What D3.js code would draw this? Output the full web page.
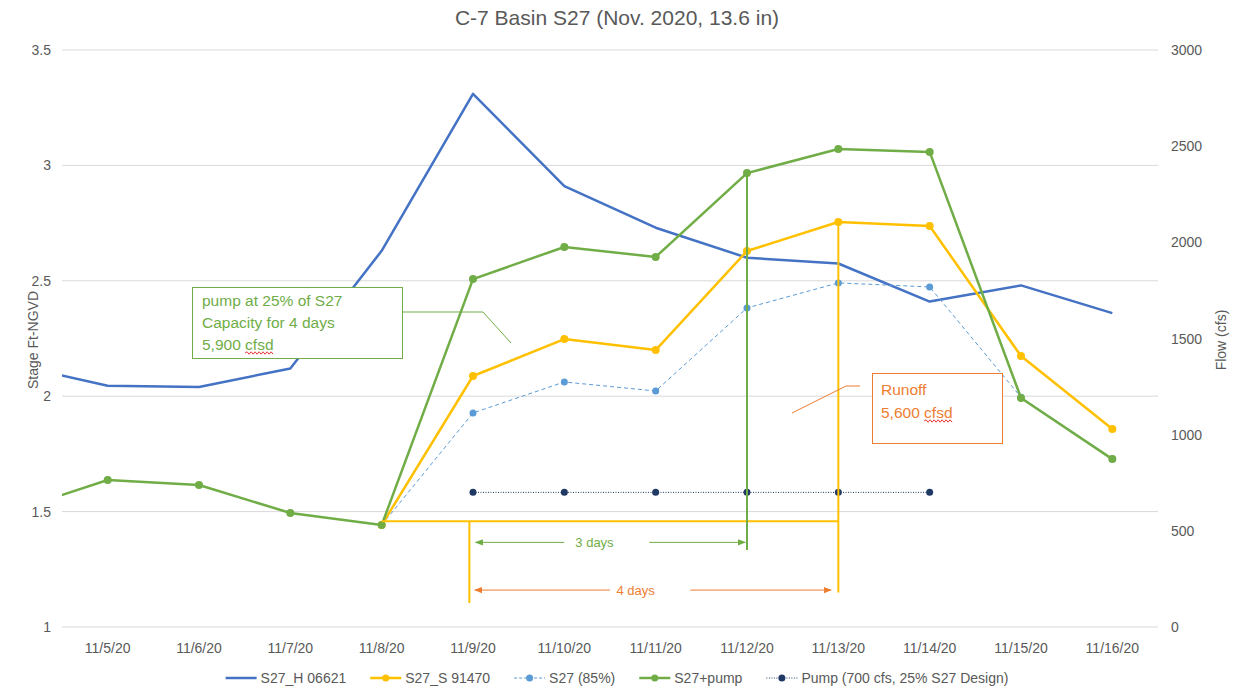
<!DOCTYPE html>
<html><head><meta charset="utf-8">
<script src="https://cdn.jsdelivr.net/npm/d3@7"></script>
<style>
body{margin:0;background:#fff;}
text{font-family:"Liberation Sans",Arial,sans-serif;}
</style></head>
<body><svg id="c" width="1234" height="689"></svg>
<script>
// ---- data ----
const categories = ["11/5/20","11/6/20","11/7/20","11/8/20","11/9/20","11/10/20","11/11/20","11/12/20","11/13/20","11/14/20","11/15/20","11/16/20"];
// index -1 = 11/4/20 (partially visible, clipped at plot edge)
const stageIdx   = [-1,0,1,2,3,4,5,6,7,8,9,10,11];
const stageH     = [2.135,2.045,2.04,2.12,2.63,3.31,2.91,2.73,2.60,2.575,2.41,2.48,2.36];
const flowSIdx   = [3,4,5,6,7,8,9,10,11];
const flowS      = [530,1305,1497,1440,1955,2106,2085,1409,1029];
const flow85Idx  = [3,4,5,6,7,8,9,10,11];
const flow85     = [530,1113,1274,1227,1659,1789,1768,1195,875];
const pumpFlowIdx= [-1,0,1,2,3,4,5,6,7,8,9,10,11];
const pumpFlow   = [608,764,738,593,530,1809,1976,1924,2360,2485,2470,1191,873];
const pumpIdx    = [4,5,6,7,8,9];
const pump       = [700,700,700,700,700,700];
const leftTicks  = [1,1.5,2,2.5,3,3.5];
const rightTicks = [0,500,1000,1500,2000,2500,3000];
const seriesNames= ["S27_H 06621","S27_S 91470","S27 (85%)","S27+pump","Pump (700 cfs, 25% S27 Design)"];
const baseFlow = 550;

const svg = d3.select("#c");
const L=62,R=1158,T=50,B=627;
const x = d3.scaleLinear().domain([-0.5,11.5]).range([L,R]);
const yL = d3.scaleLinear().domain([1,3.5]).range([B,T]);
const yR = d3.scaleLinear().domain([0,3000]).range([B,T]);
const grey="#595959";
const C={blue:"#4472C4",yel:"#FFC000",lb:"#5B9BD5",grn:"#70AD47",navy:"#203864",org:"#ED7D31"};
const defs = svg.append("defs");
defs.append("clipPath").attr("id","clip").append("rect")
  .attr("x",L).attr("y",0).attr("width",R-L).attr("height",689);

// title
svg.append("text").attr("x",617).attr("y",25).attr("text-anchor","middle")
  .attr("font-size",21).attr("fill",grey).text("C-7 Basin S27 (Nov. 2020, 13.6 in)");

// grid
svg.append("g").selectAll("line").data(leftTicks).join("line")
  .attr("x1",L).attr("x2",R).attr("y1",d=>yL(d)).attr("y2",d=>yL(d))
  .attr("stroke","#d9d9d9").attr("stroke-width",1);

// axis labels
svg.append("g").selectAll("text").data(leftTicks).join("text")
  .attr("x",51).attr("y",d=>yL(d)+5).attr("text-anchor","end")
  .attr("font-size",14).attr("fill",grey).text(d=>d);
svg.append("g").selectAll("text").data(rightTicks).join("text")
  .attr("x",1171).attr("y",d=>yR(d)+5).attr("text-anchor","start")
  .attr("font-size",14).attr("fill",grey).text(d=>d);
svg.append("g").selectAll("text").data(categories).join("text")
  .attr("x",(d,i)=>x(i)).attr("y",653).attr("text-anchor","middle")
  .attr("font-size",14).attr("fill",grey).text(d=>d);
svg.append("text").attr("transform","translate(38,340) rotate(-90)")
  .attr("text-anchor","middle").attr("font-size",14).attr("fill",grey).text("Stage Ft-NGVD");
svg.append("text").attr("transform","translate(1226,340) rotate(-90)")
  .attr("text-anchor","middle").attr("font-size",14).attr("fill",grey).text("Flow (cfs)");

const plot = svg.append("g").attr("clip-path","url(#clip)");
function series(idx,vals,ys,color,w,dash,markers,r){
  const pts = idx.map((k,i)=>[x(k),ys(vals[i])]);
  plot.append("path").attr("d",d3.line()(pts)).attr("fill","none")
    .attr("stroke",color).attr("stroke-width",w).attr("stroke-dasharray",dash||null)
    .attr("stroke-linejoin","round");
  if(markers){
    plot.append("g").selectAll("circle").data(pts.filter(p=>p[0]>=L)).join("circle")
      .attr("cx",d=>d[0]).attr("cy",d=>d[1]).attr("r",r).attr("fill",color);
  }
}

// annotation lines
const ann = svg.append("g");
ann.append("line").attr("x1",x(3)).attr("x2",x(8)).attr("y1",yR(baseFlow)).attr("y2",yR(baseFlow))
  .attr("stroke",C.yel).attr("stroke-width",2);
ann.append("line").attr("x1",x(3.96)).attr("x2",x(3.96)).attr("y1",yR(baseFlow)).attr("y2",yR(125))
  .attr("stroke",C.yel).attr("stroke-width",2);
ann.append("line").attr("x1",x(8)).attr("x2",x(8)).attr("y1",yR(flowS[5])).attr("y2",yR(180))
  .attr("stroke",C.yel).attr("stroke-width",2);
ann.append("line").attr("x1",x(7)).attr("x2",x(7)).attr("y1",yR(pumpFlow[8])).attr("y2",yR(400))
  .attr("stroke",C.grn).attr("stroke-width",2);

function mk(id,col){
  defs.append("marker").attr("id",id).attr("viewBox","0 0 10 10").attr("refX",9).attr("refY",5)
   .attr("markerWidth",8).attr("markerHeight",8).attr("orient","auto-start-reverse")
   .append("path").attr("d","M0,1L10,5L0,9Z").attr("fill",col);
}
mk("ag",C.grn); mk("ao",C.org);
function arrowPair(x1,e1,s2,x2,yv,col,id,label,tx){
  ann.append("line").attr("x1",x1).attr("x2",e1).attr("y1",yv).attr("y2",yv)
   .attr("stroke",col).attr("stroke-width",1).attr("marker-start",`url(#${id})`);
  ann.append("line").attr("x1",s2).attr("x2",x2).attr("y1",yv).attr("y2",yv)
   .attr("stroke",col).attr("stroke-width",1).attr("marker-end",`url(#${id})`);
  ann.append("text").attr("x",tx).attr("y",yv+4.5).attr("text-anchor","middle")
   .attr("font-size",13).attr("fill",col).text(label);
}
arrowPair(x(4.03),x(5.0),x(5.93),x(6.98),yR(440),C.grn,"ag","3 days",x(5.33));
arrowPair(x(4.02),x(5.5),x(6.38),x(7.92),yR(192),C.org,"ao","4 days",x(5.78));

// series
series(stageIdx,stageH,yL,C.blue,2.5,null,false,0);
series(flow85Idx,flow85,yR,C.lb,1,"4,3",true,3.5);
series(flowSIdx,flowS,yR,C.yel,2.5,null,true,4);
series(pumpFlowIdx,pumpFlow,yR,C.grn,2.5,null,true,4);
series(pumpIdx,pump,yR,C.navy,1,"1,1.5",true,3.5);

// wavy spell-check underline
function wavy(g,x0,x1,yv){
  let d=`M${x0},${yv}`; let up=true;
  for(let xx=x0+2;xx<=x1;xx+=2){ d+=`L${xx},${yv+(up?-1.2:1.2)}`; up=!up; }
  g.append("path").attr("d",d).attr("fill","none").attr("stroke","#e00000").attr("stroke-width",0.8);
}
function noteLine(g,xx,yy,pre,word,col,fs){
  const t=g.append("text").attr("x",xx).attr("y",yy).attr("font-size",fs).attr("fill",col);
  const a=t.append("tspan").text(pre);
  const b=t.append("tspan").text(word);
  if(word){
    const w0=a.node().getComputedTextLength();
    const w1=b.node().getComputedTextLength();
    wavy(g,xx+w0,xx+w0+w1,yy+3);
  }
}
// green box
const gb = svg.append("g");
gb.append("rect").attr("x",192.5).attr("y",287.5).attr("width",210).attr("height",71)
  .attr("fill","#fff").attr("stroke",C.grn).attr("stroke-width",1);
gb.append("polyline").attr("points","403,312 483,312 511,343").attr("fill","none")
  .attr("stroke",C.grn).attr("stroke-width",1);
noteLine(gb,202,306,"pump at 25% of S27","",C.grn,15.5);
noteLine(gb,202,328,"Capacity for 4 days","",C.grn,15.5);
noteLine(gb,202,350,"5,900 ","cfsd",C.grn,15.5);
// orange box
const ob = svg.append("g");
ob.append("rect").attr("x",872.5).attr("y",373.5).attr("width",130).attr("height",70)
  .attr("fill","#fff").attr("stroke",C.org).attr("stroke-width",1);
ob.append("polyline").attr("points","860,386 846,386 792,413").attr("fill","none")
  .attr("stroke",C.org).attr("stroke-width",1);
noteLine(ob,881,395,"Runoff","",C.org,15.5);
noteLine(ob,881,418,"5,600 ","cfsd",C.org,15.5);

// legend (centered, measured)
const lg = svg.append("g");
const lcol=[C.blue,C.yel,C.lb,C.grn,C.navy];
const ldash=[null,null,"3,2",null,"1,1.5"];
const lw=[2.5,2.5,1,2.5,1];
const lmk=[false,true,true,true,true];
const texts = seriesNames.map(n=>lg.append("text").attr("y",683).attr("font-size",14).attr("fill",grey).text(n));
const widths = texts.map(t=>t.node().getComputedTextLength());
const sw=31, sg=4, gap=24;
const total = d3.sum(widths)+seriesNames.length*(sw+sg)+gap*(seriesNames.length-1);
let cx = 617-total/2;
seriesNames.forEach((n,i)=>{
  lg.append("line").attr("x1",cx).attr("x2",cx+sw).attr("y1",678).attr("y2",678)
    .attr("stroke",lcol[i]).attr("stroke-width",lw[i]).attr("stroke-dasharray",ldash[i]);
  if(lmk[i]) lg.append("circle").attr("cx",cx+sw/2).attr("cy",678).attr("r",3.5).attr("fill",lcol[i]);
  texts[i].attr("x",cx+sw+sg);
  cx += sw+sg+widths[i]+gap;
});
</script></body></html>
